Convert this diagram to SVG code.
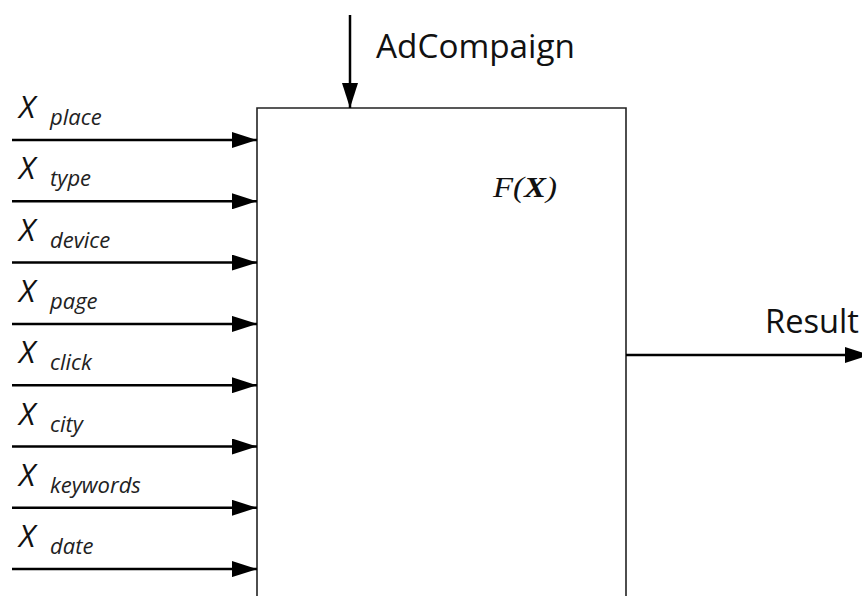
<svg xmlns="http://www.w3.org/2000/svg" width="862" height="596" viewBox="0 0 862 596">
<style>
.ln{stroke:#000;stroke-width:2.5;fill:none}
.box{stroke:#222;stroke-width:1.6;fill:none}
.x{font-family:"Open Sans","Liberation Sans",sans-serif;font-style:italic;font-size:31px;fill:#111}
.sub{font-family:"Open Sans","Liberation Sans",sans-serif;font-style:italic;font-size:22px;fill:#222}
.lbl{font-family:"Open Sans","Liberation Sans",sans-serif;font-size:32px;fill:#111}
.f{font-family:"Liberation Serif",serif;font-style:italic;font-size:29px;fill:#111}
</style>
<defs>
<marker id="ah" markerWidth="25" markerHeight="16" refX="25" refY="8" orient="auto" markerUnits="userSpaceOnUse">
<path d="M0,0 L25,8 L0,16 Z" fill="#000"/>
</marker>
</defs>
<g id="box">
<path class="box" d="M257,600 L257,108 L626,108 L626,600"/>
<text class="f" x="493" y="197" textLength="64" lengthAdjust="spacingAndGlyphs">F(<tspan font-weight="bold">X</tspan>)</text>
</g>
<g id="connectors">
<line class="ln" x1="12" y1="140" x2="257" y2="140" marker-end="url(#ah)"/>
<line class="ln" x1="12" y1="201.3" x2="257" y2="201.3" marker-end="url(#ah)"/>
<line class="ln" x1="12" y1="262.6" x2="257" y2="262.6" marker-end="url(#ah)"/>
<line class="ln" x1="12" y1="323.9" x2="257" y2="323.9" marker-end="url(#ah)"/>
<line class="ln" x1="12" y1="385.2" x2="257" y2="385.2" marker-end="url(#ah)"/>
<line class="ln" x1="12" y1="446.5" x2="257" y2="446.5" marker-end="url(#ah)"/>
<line class="ln" x1="12" y1="507.8" x2="257" y2="507.8" marker-end="url(#ah)"/>
<line class="ln" x1="12" y1="569.1" x2="257" y2="569.1" marker-end="url(#ah)"/>
<line class="ln" x1="350" y1="15" x2="350" y2="108" marker-end="url(#ah)"/>
<line class="ln" x1="626" y1="355" x2="870" y2="355" marker-end="url(#ah)"/>
</g>
<g id="in-place"><text class="x" x="19" y="118">X</text><text class="sub" x="50" y="125">place</text></g>
<g id="in-type"><text class="x" x="19" y="179.3">X</text><text class="sub" x="50" y="186.3">type</text></g>
<g id="in-device"><text class="x" x="19" y="240.6">X</text><text class="sub" x="50" y="247.6">device</text></g>
<g id="in-page"><text class="x" x="19" y="301.9">X</text><text class="sub" x="50" y="308.9">page</text></g>
<g id="in-click"><text class="x" x="19" y="363.2">X</text><text class="sub" x="50" y="370.2">click</text></g>
<g id="in-city"><text class="x" x="19" y="424.5">X</text><text class="sub" x="50" y="431.5">city</text></g>
<g id="in-keywords"><text class="x" x="19" y="485.8">X</text><text class="sub" x="50" y="492.8">keywords</text></g>
<g id="in-date"><text class="x" x="19" y="547.1">X</text><text class="sub" x="50" y="554.1">date</text></g>
<g id="adcompaign"><text class="lbl" x="376" y="58" textLength="199" lengthAdjust="spacingAndGlyphs">AdCompaign</text></g>
<g id="result"><text class="lbl" x="765" y="333" textLength="94" lengthAdjust="spacingAndGlyphs">Result</text></g>
</svg>
